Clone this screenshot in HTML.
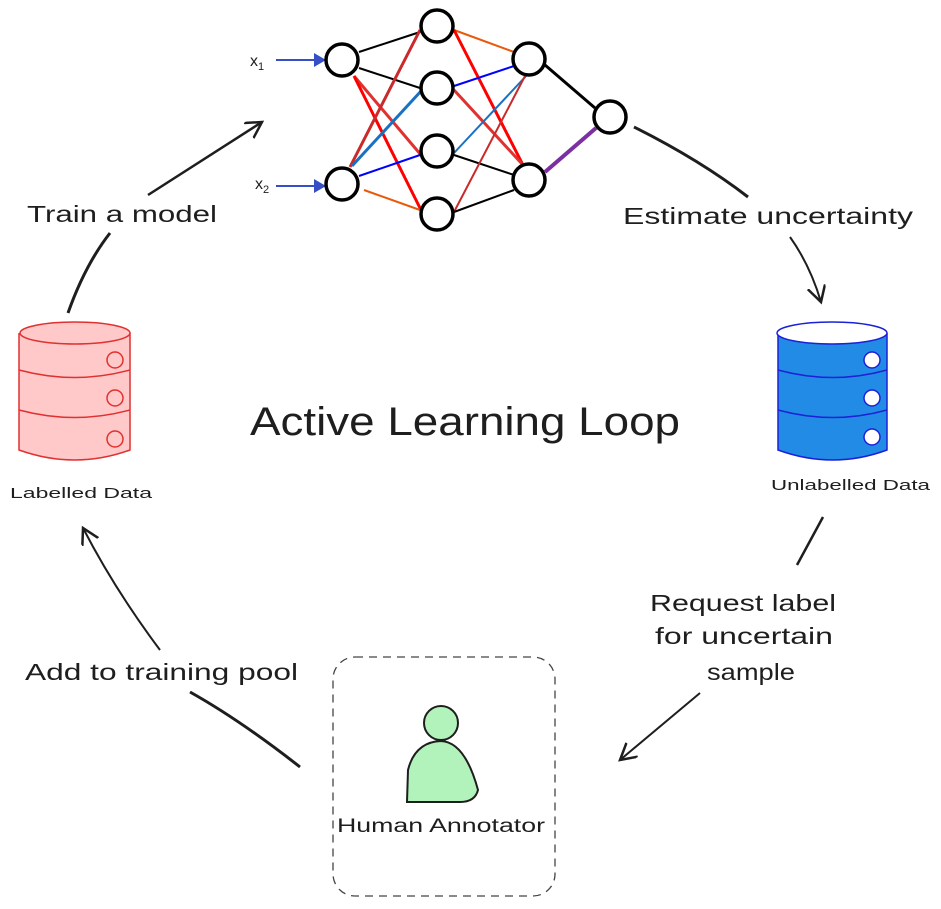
<!DOCTYPE html>
<html><head><meta charset="utf-8"><style>
html,body{margin:0;padding:0;background:#fff;}
svg{display:block;}
text{font-family:"Liberation Sans",sans-serif;fill:#1e1e1e;}
</style></head><body>
<svg width="941" height="909" viewBox="0 0 941 909" xmlns="http://www.w3.org/2000/svg">
<defs>
<marker id="ah" markerWidth="20" markerHeight="20" refX="16" refY="9" orient="auto" markerUnits="userSpaceOnUse">
<path d="M0,0 L16,9 L0,18" fill="none" stroke="#1e1e1e" stroke-width="2.5"/></marker>
</defs>
<g stroke-width="2" fill="none">
<line x1="359" y1="52" x2="420" y2="32" stroke="#000"/>
<line x1="359" y1="68" x2="420" y2="88" stroke="#000"/>
<line x1="354" y1="76" x2="421" y2="155" stroke="#e03131" stroke-width="3"/>
<line x1="354" y1="76" x2="421" y2="210" stroke="#f00" stroke-width="3"/>
<line x1="350" y1="167" x2="420" y2="30" stroke="#c92a2a" stroke-width="3"/>
<line x1="352" y1="166" x2="422" y2="90" stroke="#1971c2" stroke-width="3"/>
<line x1="359" y1="176" x2="420" y2="155" stroke="#00f"/>
<line x1="364" y1="190" x2="420" y2="210" stroke="#e8590c"/>
<line x1="454" y1="30" x2="514" y2="52" stroke="#e8590c"/>
<line x1="454" y1="30" x2="523" y2="165" stroke="#f00" stroke-width="3"/>
<line x1="454" y1="86" x2="514" y2="66" stroke="#00f"/>
<line x1="454" y1="90" x2="523" y2="165" stroke="#e03131" stroke-width="3"/>
<line x1="454" y1="153" x2="527" y2="75" stroke="#1971c2"/>
<line x1="454" y1="155" x2="514" y2="175" stroke="#000"/>
<line x1="454" y1="212" x2="525" y2="76" stroke="#c92a2a"/>
<line x1="454" y1="212" x2="514" y2="190" stroke="#000"/>
<line x1="545" y1="65" x2="595" y2="108" stroke="#000" stroke-width="3"/>
<line x1="545" y1="172" x2="596" y2="128" stroke="#7b2fa1" stroke-width="4"/>
<line x1="276" y1="60" x2="318" y2="60" stroke="#364fc7"/>
<line x1="276" y1="186" x2="318" y2="186" stroke="#364fc7"/>
</g>
<path d="M314,53 L326,60 L314,67Z" fill="#364fc7"/>
<path d="M314,179 L326,186 L314,193Z" fill="#364fc7"/>
<g fill="#fff" stroke="#000" stroke-width="3.5">
<circle cx="342" cy="60" r="16"/><circle cx="342" cy="184" r="16"/>
<circle cx="437" cy="26" r="16"/><circle cx="437" cy="88" r="16"/>
<circle cx="437" cy="151" r="16"/><circle cx="437" cy="214" r="16"/>
<circle cx="529" cy="59" r="16"/><circle cx="529" cy="180" r="16"/>
<circle cx="610" cy="117" r="16"/>
</g>
<text x="250" y="66" font-size="16">x<tspan font-size="11" dy="4">1</tspan></text>
<text x="255" y="189" font-size="16">x<tspan font-size="11" dy="4">2</tspan></text>
<g stroke="#e03131" stroke-width="1.5" fill="#ffc9c9">
<path d="M19,333 L19,450 Q75,470 130,450 L130,333"/>
<ellipse cx="75" cy="333" rx="55" ry="11"/>
<path d="M19,370 Q75,385 130,370" fill="none"/>
<path d="M19,410 Q75,425 130,410" fill="none"/>
<circle cx="115" cy="360" r="8"/><circle cx="115" cy="398" r="8"/><circle cx="115" cy="439" r="8"/>
</g>
<text x="10" y="498" font-size="15" textLength="142" lengthAdjust="spacingAndGlyphs">Labelled Data</text>
<g stroke="#1c20d8" stroke-width="1.5" fill="#228be6">
<path d="M778,333 L778,450 Q833,470 887,450 L887,333"/>
<ellipse cx="832" cy="333" rx="55" ry="11" fill="#fff"/>
<path d="M778,370 Q833,385 887,370" fill="none"/>
<path d="M778,410 Q833,425 887,410" fill="none"/>
<circle cx="872" cy="360" r="8" fill="#fff"/><circle cx="872" cy="398" r="8" fill="#fff"/><circle cx="872" cy="437" r="8" fill="#fff"/>
</g>
<text x="771" y="490" font-size="15" textLength="159" lengthAdjust="spacingAndGlyphs">Unlabelled Data</text>
<text x="250" y="435" font-size="40" textLength="430" lengthAdjust="spacingAndGlyphs">Active Learning Loop</text>
<g stroke="#1e1e1e" stroke-width="3" fill="none">
<path d="M68,313 Q85,265 110,233"/>
<path d="M148,195 L262,122" marker-end="url(#ah)" stroke-width="2.5"/>
<path d="M634,127 Q700,160 748,197"/>
<path d="M790,237 Q810,265 821,302" marker-end="url(#ah)" stroke-width="2"/>
<path d="M823,517 L797,565" stroke-width="2.5"/>
<path d="M700,693 L620,760" marker-end="url(#ah)" stroke-width="2"/>
<path d="M300,767 Q240,720 190,692"/>
<path d="M160,650 Q115,590 83,528" marker-end="url(#ah)" stroke-width="2"/>
</g>
<text x="27" y="222" font-size="23" textLength="190" lengthAdjust="spacingAndGlyphs">Train a model</text>
<text x="623" y="224" font-size="23" textLength="290" lengthAdjust="spacingAndGlyphs">Estimate uncertainty</text>
<text x="650" y="611" font-size="23" textLength="186" lengthAdjust="spacingAndGlyphs">Request label</text>
<text x="655" y="644" font-size="23" textLength="178" lengthAdjust="spacingAndGlyphs">for uncertain</text>
<text x="707" y="680" font-size="23" textLength="88" lengthAdjust="spacingAndGlyphs">sample</text>
<text x="25" y="680" font-size="23" textLength="273" lengthAdjust="spacingAndGlyphs">Add to training pool</text>
<rect x="333" y="657" width="222" height="239" rx="22" fill="none" stroke="#444" stroke-width="1.3" stroke-dasharray="8 6"/>
<circle cx="441" cy="723" r="17" fill="#b2f2bb" stroke="#1e1e1e" stroke-width="2"/>
<path d="M407,802 L408,770 Q415,742 441,741 Q465,742 478,790 Q475,802 460,802 Z" fill="#b2f2bb" stroke="#1e1e1e" stroke-width="2"/>
<text x="337" y="832" font-size="19" textLength="208" lengthAdjust="spacingAndGlyphs">Human Annotator</text>
</svg>
</body></html>
